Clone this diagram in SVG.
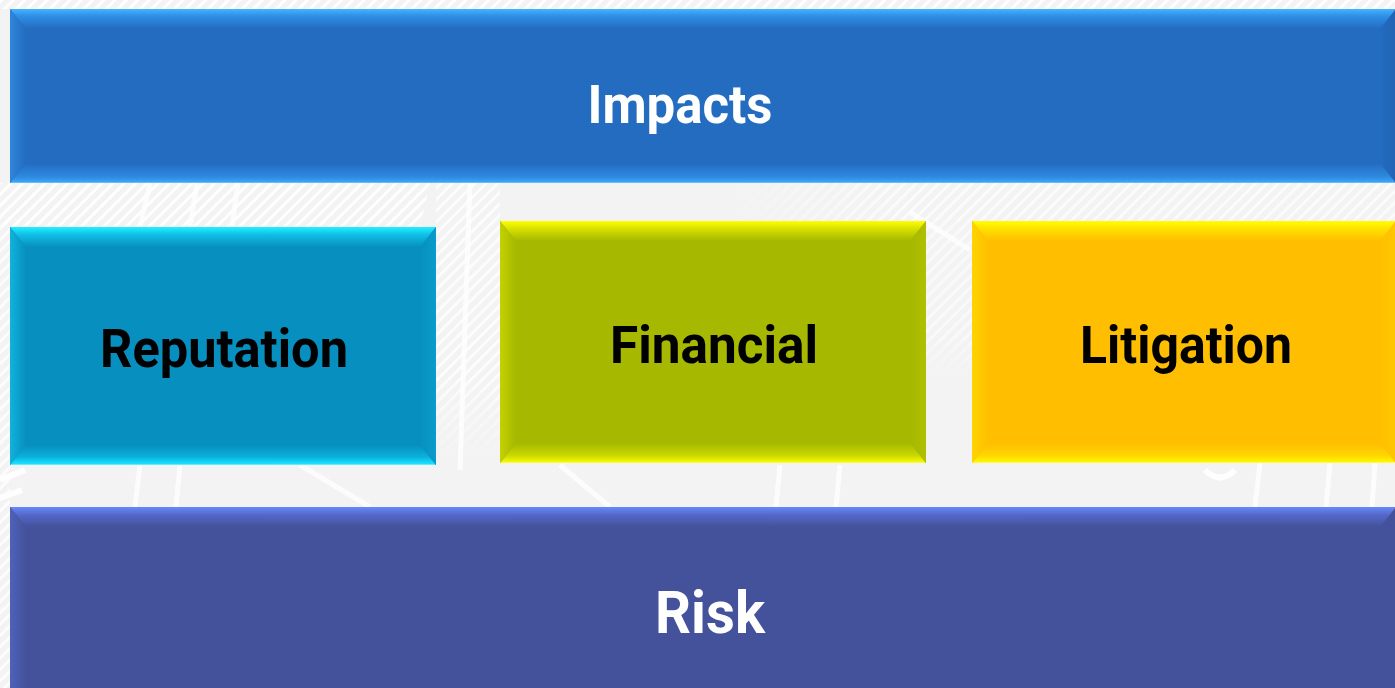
<svg xmlns="http://www.w3.org/2000/svg" width="1395" height="688" viewBox="0 0 1395 688">
  <defs>
    <style>
      .lbl { font-family: Roboto, "Liberation Sans", "DejaVu Sans", sans-serif; font-weight: 700; text-anchor: middle; }
      .w { fill: #ffffff; }
      .k { fill: #000000; }
    </style>
    <!-- light diagonal hatching of the backdrop -->
    <pattern id="hatch" width="8" height="8" patternUnits="userSpaceOnUse" patternTransform="rotate(45)">
      <rect x="0" y="0" width="3" height="8" fill="#ffffff"/>
    </pattern>
    <!-- soft fade so hatched patches have no hard edge -->
    <linearGradient id="fadeV" x1="0" y1="0" x2="0" y2="1"><stop offset="0" stop-color="#fff"/><stop offset="0.7" stop-color="#fff"/><stop offset="1" stop-color="#000"/></linearGradient>
    <linearGradient id="fadeH" x1="0" y1="0" x2="1" y2="0"><stop offset="0" stop-color="#000"/><stop offset="0.25" stop-color="#fff"/><stop offset="1" stop-color="#fff"/></linearGradient>
    <mask id="mV" maskContentUnits="objectBoundingBox"><rect width="1" height="1" fill="url(#fadeV)"/></mask>
    <mask id="mH" maskContentUnits="objectBoundingBox"><rect width="1" height="1" fill="url(#fadeH)"/></mask>

    <!-- bevel gradients: top/bottom run vertically, left/right horizontally -->
    <linearGradient id="impT" x1="0" y1="0" x2="0" y2="1"><stop offset="0" stop-color="#44b4ff"/><stop offset="0.35" stop-color="#2f8fe6"/><stop offset="1" stop-color="#236cc0"/></linearGradient>
    <linearGradient id="impB" x1="0" y1="0" x2="0" y2="1"><stop offset="0" stop-color="#236cc0"/><stop offset="0.7" stop-color="#2e8ae0"/><stop offset="0.93" stop-color="#3ba3f4"/><stop offset="1" stop-color="#7cc8ff"/></linearGradient>
    <linearGradient id="impL" x1="0" y1="0" x2="1" y2="0"><stop offset="0" stop-color="#2f86dc"/><stop offset="1" stop-color="#236cc0"/></linearGradient>
    <linearGradient id="impR" x1="0" y1="0" x2="1" y2="0"><stop offset="0" stop-color="#236cc0"/><stop offset="1" stop-color="#2164b4"/></linearGradient>

    <linearGradient id="repT" x1="0" y1="0" x2="0" y2="1"><stop offset="0" stop-color="#22f0ff"/><stop offset="0.4" stop-color="#10bde6"/><stop offset="1" stop-color="#0790bf"/></linearGradient>
    <linearGradient id="repB" x1="0" y1="0" x2="0" y2="1"><stop offset="0" stop-color="#0790bf"/><stop offset="0.6" stop-color="#0bb0dc"/><stop offset="0.93" stop-color="#1ae0ff"/><stop offset="1" stop-color="#7ff6ff"/></linearGradient>
    <linearGradient id="repL" x1="0" y1="0" x2="1" y2="0"><stop offset="0" stop-color="#12b2dc"/><stop offset="1" stop-color="#0790bf"/></linearGradient>
    <linearGradient id="repR" x1="0" y1="0" x2="1" y2="0"><stop offset="0" stop-color="#0790bf"/><stop offset="1" stop-color="#0a9ccb"/></linearGradient>

    <linearGradient id="finT" x1="0" y1="0" x2="0" y2="1"><stop offset="0" stop-color="#ffff00"/><stop offset="0.4" stop-color="#d6e000"/><stop offset="1" stop-color="#a6b800"/></linearGradient>
    <linearGradient id="finB" x1="0" y1="0" x2="0" y2="1"><stop offset="0" stop-color="#a6b800"/><stop offset="0.6" stop-color="#c8d600"/><stop offset="0.93" stop-color="#f2f600"/><stop offset="1" stop-color="#ffff60"/></linearGradient>
    <linearGradient id="finL" x1="0" y1="0" x2="1" y2="0"><stop offset="0" stop-color="#c4d200"/><stop offset="1" stop-color="#a6b800"/></linearGradient>
    <linearGradient id="finR" x1="0" y1="0" x2="1" y2="0"><stop offset="0" stop-color="#a6b800"/><stop offset="1" stop-color="#b0c000"/></linearGradient>

    <linearGradient id="litT" x1="0" y1="0" x2="0" y2="1"><stop offset="0" stop-color="#ffff00"/><stop offset="0.4" stop-color="#ffe000"/><stop offset="1" stop-color="#ffbf00"/></linearGradient>
    <linearGradient id="litB" x1="0" y1="0" x2="0" y2="1"><stop offset="0" stop-color="#ffbf00"/><stop offset="0.6" stop-color="#ffd400"/><stop offset="0.93" stop-color="#fff400"/><stop offset="1" stop-color="#ffff70"/></linearGradient>
    <linearGradient id="litL" x1="0" y1="0" x2="1" y2="0"><stop offset="0" stop-color="#ffd400"/><stop offset="1" stop-color="#ffbf00"/></linearGradient>
    <linearGradient id="litR" x1="0" y1="0" x2="1" y2="0"><stop offset="0" stop-color="#ffbf00"/><stop offset="1" stop-color="#ffc800"/></linearGradient>

    <linearGradient id="rskT" x1="0" y1="0" x2="0" y2="1"><stop offset="0" stop-color="#6888ff"/><stop offset="0.4" stop-color="#5468c8"/><stop offset="1" stop-color="#44529b"/></linearGradient>
    <linearGradient id="rskL" x1="0" y1="0" x2="1" y2="0"><stop offset="0" stop-color="#4e62b8"/><stop offset="1" stop-color="#44529b"/></linearGradient>
  </defs>

  <!-- backdrop -->
  <rect x="0" y="0" width="1395" height="688" fill="#f3f3f3"/>
  <g id="backdrop" opacity="0.9">
    <rect x="0" y="0" width="1395" height="9" fill="url(#hatch)"/>
    <polygon points="0,183 430,183 420,227 0,227" fill="url(#hatch)"/>
    <rect x="720" y="183" width="675" height="38" fill="url(#hatch)" opacity="0.7" mask="url(#mH)"/>
    <rect x="0" y="183" width="10" height="505" fill="url(#hatch)" opacity="0.8"/>
    <rect x="436" y="183" width="64" height="282" fill="url(#hatch)" opacity="0.8" mask="url(#mV)"/>
    <rect x="926" y="221" width="46" height="160" fill="url(#hatch)" opacity="0.6" mask="url(#mV)"/>
    <!-- broad pale streaks -->
    <g stroke="#ffffff" stroke-width="5" fill="none" opacity="0.85">
      <line x1="150" y1="183" x2="140" y2="227"/>
      <line x1="197" y1="183" x2="190" y2="227"/>
      <line x1="238" y1="183" x2="232" y2="227"/>
      <line x1="470" y1="183" x2="460" y2="470"/>
      <line x1="140" y1="465" x2="135" y2="507"/>
      <line x1="180" y1="465" x2="176" y2="507"/>
      <line x1="300" y1="465" x2="370" y2="507"/>
      <line x1="910" y1="212" x2="970" y2="250"/>
      <line x1="1260" y1="463" x2="1255" y2="507"/>
      <line x1="1330" y1="463" x2="1326" y2="507"/>
      <line x1="1375" y1="463" x2="1372" y2="507"/>
      <line x1="560" y1="465" x2="610" y2="507"/>
      <line x1="780" y1="465" x2="776" y2="507"/>
      <line x1="840" y1="465" x2="836" y2="507"/>
    </g>
    <path d="M0,480 L25,470 M0,498 L22,490" stroke="#ffffff" stroke-width="6" fill="none"/>
    <path d="M1205,470 q15,15 30,0" stroke="#ffffff" stroke-width="6" fill="none"/>
  </g>

  <!-- Impacts banner -->
  <g id="impacts">
    <rect x="10" y="9" width="1386" height="174" fill="#236cc0"/>
    <polygon points="10,9 1396,9 1380,29 26,29" fill="url(#impT)"/>
    <polygon points="26,163 1380,163 1396,183 10,183" fill="url(#impB)"/>
    <polygon points="10,9 26,29 26,163 10,183" fill="url(#impL)"/>
    <polygon points="1380,29 1396,9 1396,183 1380,163" fill="url(#impR)"/>
    <text class="lbl w" x="680" y="123" font-size="53" textLength="185" lengthAdjust="spacingAndGlyphs">Impacts</text>
  </g>

  <!-- Reputation -->
  <g id="reputation">
    <rect x="10" y="227" width="426" height="238" fill="#0790bf"/>
    <polygon points="10,227 436,227 420,247 26,247" fill="url(#repT)"/>
    <polygon points="26,445 420,445 436,465 10,465" fill="url(#repB)"/>
    <polygon points="10,227 26,247 26,445 10,465" fill="url(#repL)"/>
    <polygon points="420,247 436,227 436,465 420,445" fill="url(#repR)"/>
    <text class="lbl k" x="224" y="367" font-size="53" textLength="248" lengthAdjust="spacingAndGlyphs">Reputation</text>
  </g>

  <!-- Financial -->
  <g id="financial">
    <rect x="500" y="221" width="426" height="242" fill="#a6b800"/>
    <polygon points="500,221 926,221 910,241 516,241" fill="url(#finT)"/>
    <polygon points="516,443 910,443 926,463 500,463" fill="url(#finB)"/>
    <polygon points="500,221 516,241 516,443 500,463" fill="url(#finL)"/>
    <polygon points="910,241 926,221 926,463 910,443" fill="url(#finR)"/>
    <text class="lbl k" x="714" y="363" font-size="51" textLength="208" lengthAdjust="spacingAndGlyphs">Financial</text>
  </g>

  <!-- Litigation -->
  <g id="litigation">
    <rect x="972" y="221" width="424" height="242" fill="#ffbf00"/>
    <polygon points="972,221 1396,221 1380,241 988,241" fill="url(#litT)"/>
    <polygon points="988,443 1380,443 1396,463 972,463" fill="url(#litB)"/>
    <polygon points="972,221 988,241 988,443 972,463" fill="url(#litL)"/>
    <polygon points="1380,241 1396,221 1396,463 1380,443" fill="url(#litR)"/>
    <text class="lbl k" x="1186" y="363" font-size="51" textLength="212" lengthAdjust="spacingAndGlyphs">Litigation</text>
  </g>

  <!-- Risk banner -->
  <g id="risk">
    <rect x="10" y="507" width="1386" height="181" fill="#44529b"/>
    <polygon points="10,507 1396,507 1380,527 26,527" fill="url(#rskT)"/>
    <polygon points="10,507 26,527 26,688 10,688" fill="url(#rskL)"/>
    <text class="lbl w" x="710" y="633" font-size="60" textLength="110" lengthAdjust="spacingAndGlyphs">Risk</text>
  </g>

  <!-- no connectors in this figure -->
  <g id="connectors"/>
</svg>
